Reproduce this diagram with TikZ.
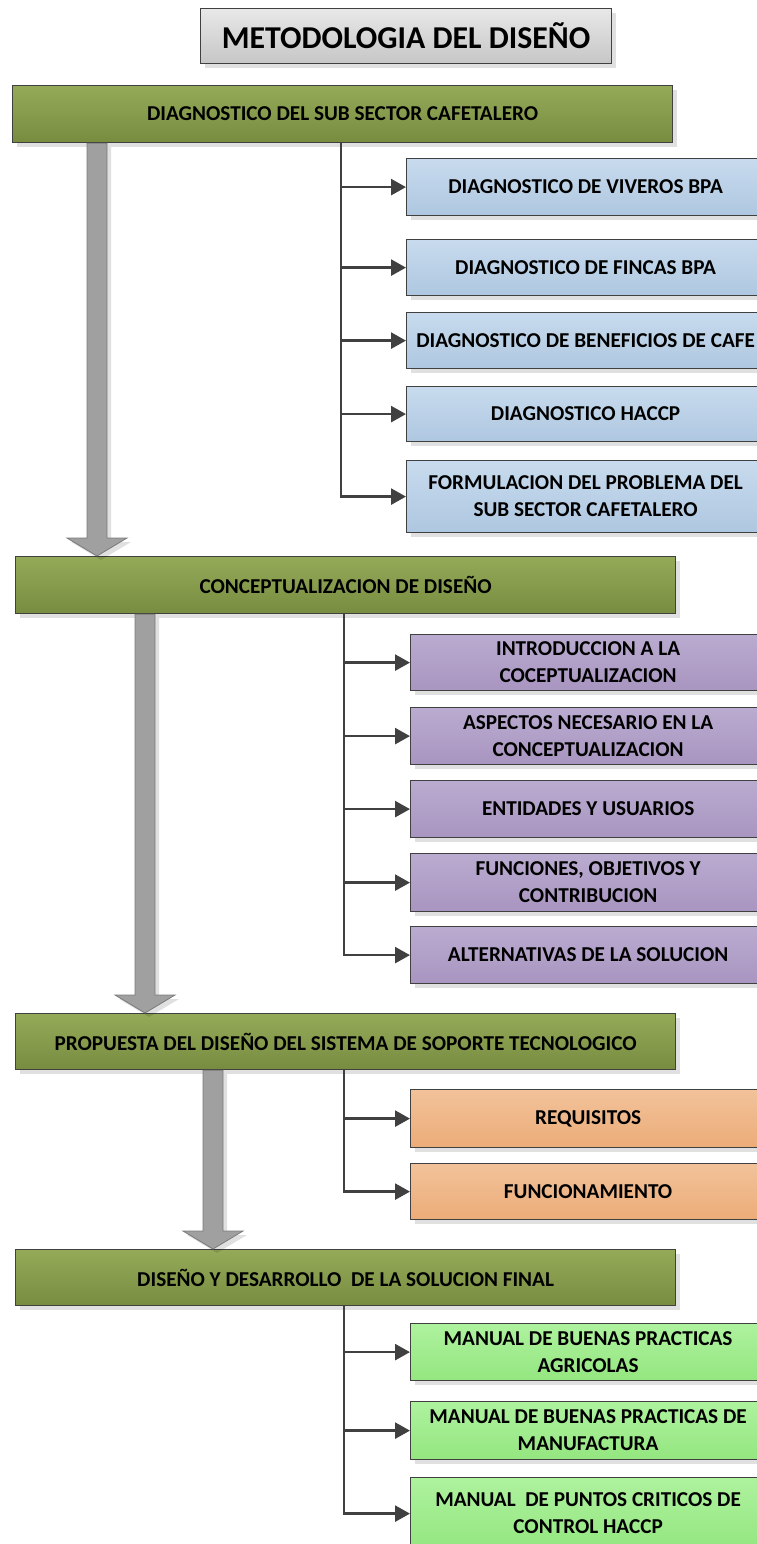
\documentclass[tikz,border=0pt]{standalone}
\usepackage{fontspec}
\setmainfont{Carlito}
\usetikzlibrary{arrows.meta, shadows, calc}

% Colores
\definecolor{borde}{HTML}{404040}
\definecolor{tituloA}{HTML}{E8E8E8}
\definecolor{tituloB}{HTML}{C6C6C6}
\definecolor{verdeA}{HTML}{94AA58}
\definecolor{verdeB}{HTML}{788C40}
\definecolor{azulA}{HTML}{C8DBEE}
\definecolor{azulB}{HTML}{AEC7E0}
\definecolor{moradoA}{HTML}{BAABD0}
\definecolor{moradoB}{HTML}{A895C0}
\definecolor{naranjaA}{HTML}{F2C29A}
\definecolor{naranjaB}{HTML}{ECAC78}
\definecolor{verdeclaroA}{HTML}{AEF29E}
\definecolor{verdeclaroB}{HTML}{94E680}
\definecolor{grisF}{HTML}{A0A0A0}
\definecolor{grisB}{HTML}{7A7A7A}

% Flecha gruesa gris entre dos etapas
\newcommand{\flechagruesa}[3]{%
  \filldraw[bloque] let \p1=([xshift=#3]#1.south west), \p2=(#2.north) in
    ({\x1-10pt},\y1) -- ({\x1-10pt},{\y2+18pt}) -- ({\x1-30pt},{\y2+18pt})
    -- (\x1,\y2) -- ({\x1+30pt},{\y2+18pt}) -- ({\x1+10pt},{\y2+18pt})
    -- ({\x1+10pt},\y1) -- cycle;}

\begin{document}
\begin{tikzpicture}[x=1pt, y=-1pt,
    caja/.style={
        draw=borde, line width=1.2pt, anchor=north west,
        align=center, inner sep=2pt,
        font=\fontsize{21.2}{27}\selectfont\bfseries,
        drop shadow={shadow xshift=4pt, shadow yshift=-4pt, fill=black, opacity=0.12}
    },
    titulo/.style={caja, top color=tituloA, bottom color=tituloB,
        font=\fontsize{31.8}{36}\selectfont\bfseries},
    etapa/.style={caja, minimum width=660pt, minimum height=57pt,
        top color=verdeA, bottom color=verdeB},
    hoja/.style={caja, minimum width=355pt, minimum height=57pt},
    azul/.style={hoja, minimum width=358pt, top color=azulA, bottom color=azulB},
    morado/.style={hoja, top color=moradoA, bottom color=moradoB},
    naranja/.style={hoja, top color=naranjaA, bottom color=naranjaB},
    verdeclaro/.style={hoja, top color=verdeclaroA, bottom color=verdeclaroB},
    conector/.style={draw=borde, line width=2.6pt, -{Triangle[length=15pt,width=16pt]}},
    bloque/.style={fill=grisF, draw=grisB, line width=0.8pt,
        drop shadow={shadow xshift=4pt, shadow yshift=-4pt, fill=black, opacity=0.12}}
]
\clip (0,0) rectangle (757,1544);

% Titulo
\node[titulo, minimum width=411pt, minimum height=55pt] (tit) at (200,8) {METODOLOGIA DEL DISEÑO};

% Etapas principales
\node[etapa] (d1) at (12,85) {DIAGNOSTICO DEL SUB SECTOR CAFETALERO};
\node[etapa] (d2) at (15,556) {CONCEPTUALIZACION DE DISEÑO};
\node[etapa, minimum height=56pt] (d3) at (15,1013) {PROPUESTA DEL DISEÑO DEL SISTEMA DE SOPORTE TECNOLOGICO};
\node[etapa, minimum height=56pt] (d4) at (15,1249) {DISEÑO Y DESARROLLO\ \ DE LA SOLUCION FINAL};

% Flechas grises entre etapas
\flechagruesa{d1}{d2}{85pt}
\flechagruesa{d2}{d3}{130pt}
\flechagruesa{d3}{d4}{198pt}

% Diagnostico
\node[azul] (b1) at (406,158) {DIAGNOSTICO DE VIVEROS BPA};
\node[azul, minimum height=56pt] (b2) at (406,239) {DIAGNOSTICO DE FINCAS BPA};
\node[azul, minimum height=56pt] (b3) at (406,312) {DIAGNOSTICO DE BENEFICIOS DE CAFE};
\node[azul, minimum height=55pt] (b4) at (406,386) {DIAGNOSTICO HACCP};
\node[azul, minimum height=72pt] (b5) at (406,460) {FORMULACION DEL PROBLEMA DEL\\SUB SECTOR CAFETALERO};

\draw[conector] ([xshift=329pt]d1.south west) |- (b1.west);
\draw[conector] ([xshift=329pt]d1.south west) |- (b2.west);
\draw[conector] ([xshift=329pt]d1.south west) |- (b3.west);
\draw[conector] ([xshift=329pt]d1.south west) |- (b4.west);
\draw[conector] ([xshift=329pt]d1.south west) |- (b5.west);

% Conceptualizacion
\node[morado, minimum height=56pt] (c1) at (410,634) {INTRODUCCION A LA\\COCEPTUALIZACION};
\node[morado] (c2) at (410,707) {ASPECTOS NECESARIO EN LA\\CONCEPTUALIZACION};
\node[morado] (c3) at (410,780) {ENTIDADES Y USUARIOS};
\node[morado, minimum height=58pt] (c4) at (410,853) {FUNCIONES, OBJETIVOS Y\\CONTRIBUCION};
\node[morado] (c5) at (410,926) {ALTERNATIVAS DE LA SOLUCION};

\draw[conector] ([xshift=329pt]d2.south west) |- (c1.west);
\draw[conector] ([xshift=329pt]d2.south west) |- (c2.west);
\draw[conector] ([xshift=329pt]d2.south west) |- (c3.west);
\draw[conector] ([xshift=329pt]d2.south west) |- (c4.west);
\draw[conector] ([xshift=329pt]d2.south west) |- (c5.west);

% Propuesta
\node[naranja, minimum height=58pt] (p1) at (410,1089) {REQUISITOS};
\node[naranja, minimum height=56pt] (p2) at (410,1163) {FUNCIONAMIENTO};

\draw[conector] ([xshift=329pt]d3.south west) |- (p1.west);
\draw[conector] ([xshift=329pt]d3.south west) |- (p2.west);

% Solucion final
\node[verdeclaro] (m1) at (410,1323) {MANUAL DE BUENAS PRACTICAS\\AGRICOLAS};
\node[verdeclaro, minimum height=58pt] (m2) at (410,1401) {MANUAL DE BUENAS PRACTICAS DE\\MANUFACTURA};
\node[verdeclaro, minimum height=72pt] (m3) at (410,1477) {MANUAL\ \ DE PUNTOS CRITICOS DE\\CONTROL HACCP};

\draw[conector] ([xshift=329pt]d4.south west) |- (m1.west);
\draw[conector] ([xshift=329pt]d4.south west) |- (m2.west);
\draw[conector] ([xshift=329pt]d4.south west) |- (m3.west);

\end{tikzpicture}
\end{document}
